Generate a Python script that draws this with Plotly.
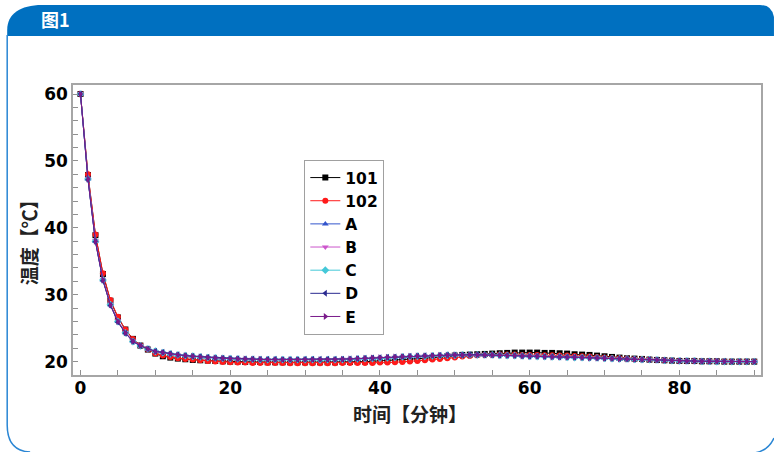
import plotly.graph_objects as go

# ---------------- data ----------------
minutes = list(range(0, 91))

s101 = [60, 47.9, 38.9, 33.1, 29.1, 26.6, 24.8, 23.4, 22.4, 21.8, 21.2, 20.8, 20.6,
        20.45, 20.35, 20.25, 20.2, 20.15, 20.1, 20.05,
        20.0, 20.0, 19.95, 19.95, 19.95, 19.9, 19.9, 19.9, 19.9, 19.9,
        19.9, 19.9, 19.9, 19.9, 19.9, 19.95, 19.95, 20.0, 20.0, 20.05,
        20.1, 20.15, 20.2, 20.25, 20.3, 20.4, 20.5, 20.6, 20.7, 20.8,
        20.9, 21.0, 21.05, 21.1, 21.15, 21.2, 21.25, 21.3, 21.35, 21.35,
        21.35, 21.35, 21.3, 21.3, 21.25, 21.2, 21.1, 21.05, 21.0, 20.9,
        20.8, 20.7, 20.6, 20.5, 20.45, 20.4, 20.3, 20.25, 20.2, 20.15,
        20.1, 20.1, 20.1, 20.05, 20.05, 20.05, 20.0, 20.0, 20.0, 20.0, 20.0]

s102 = [60, 48.0, 39.0, 33.2, 29.2, 26.7, 24.8, 23.4, 22.4, 21.8, 21.2, 20.9, 20.7,
        20.5, 20.4, 20.3, 20.2, 20.1, 20.0, 19.95,
        19.9, 19.85, 19.85, 19.8, 19.8, 19.8, 19.8, 19.8, 19.75, 19.75,
        19.75, 19.75, 19.75, 19.75, 19.75, 19.8, 19.8, 19.8, 19.8, 19.8,
        19.85, 19.85, 19.9, 19.95, 20.0, 20.1, 20.2, 20.3, 20.4, 20.5,
        20.6, 20.75, 20.85, 20.95, 21.0, 21.0, 21.05, 21.05, 21.05, 21.0,
        21.0, 21.0, 20.95, 20.95, 20.9, 20.9, 20.85, 20.8, 20.75, 20.7,
        20.6, 20.55, 20.5, 20.45, 20.4, 20.35, 20.3, 20.25, 20.2, 20.15,
        20.1, 20.1, 20.1, 20.05, 20.05, 20.05, 20.0, 20.0, 20.0, 20.0, 20.0]

sA = [60, 47.3, 38.0, 32.2, 28.5, 26.0, 24.3, 23.05, 22.4, 21.9, 21.55, 21.35, 21.15,
      21.0, 20.9, 20.8, 20.7, 20.6, 20.55, 20.5,
      20.45, 20.4, 20.4, 20.35, 20.35, 20.3, 20.3, 20.3, 20.3, 20.3,
      20.3, 20.3, 20.3, 20.3, 20.3, 20.3, 20.35, 20.4, 20.45, 20.5,
      20.55, 20.6, 20.65, 20.7, 20.75, 20.8, 20.85, 20.9, 20.9, 20.95,
      21.0, 21.0, 21.0, 21.0, 21.0, 21.0, 20.95, 20.9, 20.9, 20.85,
      20.8, 20.8, 20.75, 20.75, 20.7, 20.7, 20.65, 20.6, 20.6, 20.55,
      20.5, 20.45, 20.4, 20.4, 20.35, 20.3, 20.3, 20.25, 20.2, 20.15,
      20.1, 20.1, 20.1, 20.05, 20.05, 20.05, 20.0, 20.0, 20.0, 20.0, 20.0]

sB = [60, 47.4, 38.1, 32.3, 28.6, 26.1, 24.35, 23.1, 22.4, 21.9, 21.5, 21.3, 21.1,
      21.0, 20.85, 20.75, 20.7, 20.6, 20.5, 20.45,
      20.45, 20.4, 20.35, 20.35, 20.3, 20.3, 20.3, 20.3, 20.25, 20.25,
      20.3, 20.3, 20.3, 20.3, 20.3, 20.35, 20.35, 20.4, 20.45, 20.5,
      20.55, 20.6, 20.65, 20.7, 20.75, 20.8, 20.85, 20.85, 20.9, 20.95,
      21.0, 21.0, 21.0, 21.0, 21.0, 20.95, 20.95, 20.9, 20.85, 20.85,
      20.8, 20.8, 20.75, 20.7, 20.7, 20.65, 20.65, 20.6, 20.55, 20.55,
      20.5, 20.45, 20.4, 20.35, 20.35, 20.3, 20.25, 20.25, 20.2, 20.15,
      20.1, 20.1, 20.05, 20.05, 20.05, 20.05, 20.0, 20.0, 20.0, 20.0, 20.0]

sC = [60, 47.3, 38.0, 32.2, 28.5, 26.0, 24.3, 23.0, 22.35, 21.9, 21.55, 21.35, 21.15,
      21.0, 20.9, 20.8, 20.7, 20.6, 20.55, 20.5,
      20.45, 20.4, 20.35, 20.35, 20.3, 20.3, 20.3, 20.3, 20.3, 20.3,
      20.3, 20.3, 20.25, 20.3, 20.3, 20.3, 20.35, 20.4, 20.45, 20.45,
      20.5, 20.55, 20.6, 20.7, 20.75, 20.8, 20.8, 20.85, 20.9, 20.95,
      20.95, 21.0, 21.0, 21.0, 21.0, 21.0, 20.95, 20.9, 20.9, 20.85,
      20.8, 20.75, 20.75, 20.7, 20.7, 20.65, 20.6, 20.6, 20.55, 20.55,
      20.5, 20.45, 20.4, 20.4, 20.35, 20.3, 20.3, 20.25, 20.2, 20.15,
      20.1, 20.1, 20.1, 20.05, 20.05, 20.0, 20.0, 20.0, 20.0, 20.0, 20.0]

sD = [60, 47.2, 37.9, 32.1, 28.4, 25.9, 24.25, 23.0, 22.35, 21.9, 21.55, 21.4, 21.2,
      21.05, 20.9, 20.8, 20.75, 20.65, 20.55, 20.5,
      20.45, 20.45, 20.4, 20.4, 20.35, 20.35, 20.35, 20.3, 20.3, 20.3,
      20.35, 20.35, 20.35, 20.35, 20.35, 20.35, 20.4, 20.45, 20.5, 20.55,
      20.6, 20.65, 20.7, 20.75, 20.8, 20.85, 20.9, 20.9, 20.95, 21.0,
      21.0, 21.0, 21.05, 21.05, 21.0, 21.0, 20.95, 20.95, 20.9, 20.85,
      20.8, 20.8, 20.75, 20.75, 20.7, 20.7, 20.65, 20.6, 20.6, 20.55,
      20.5, 20.45, 20.45, 20.4, 20.35, 20.3, 20.3, 20.25, 20.2, 20.15,
      20.15, 20.1, 20.1, 20.05, 20.05, 20.05, 20.05, 20.0, 20.0, 20.0, 20.0]

sE = [60, 47.3, 38.0, 32.2, 28.5, 26.0, 24.3, 23.05, 22.4, 21.9, 21.5, 21.35, 21.15,
      21.0, 20.9, 20.8, 20.7, 20.6, 20.55, 20.5,
      20.45, 20.4, 20.4, 20.35, 20.35, 20.3, 20.3, 20.3, 20.3, 20.3,
      20.3, 20.3, 20.3, 20.3, 20.3, 20.35, 20.4, 20.45, 20.5, 20.55,
      20.6, 20.65, 20.7, 20.75, 20.8, 20.85, 20.85, 20.9, 20.95, 20.95,
      21.0, 21.0, 21.0, 21.0, 21.0, 21.0, 20.95, 20.9, 20.9, 20.85,
      20.8, 20.8, 20.75, 20.7, 20.7, 20.65, 20.65, 20.6, 20.55, 20.55,
      20.5, 20.45, 20.4, 20.4, 20.35, 20.3, 20.3, 20.25, 20.2, 20.15,
      20.1, 20.1, 20.1, 20.05, 20.05, 20.05, 20.0, 20.0, 20.0, 20.0, 20.0]

series_names = ["101", "102", "A", "B", "C", "D", "E"]
series_values = [s101, s102, sA, sB, sC, sD, sE]
series_colors = ["#000000", "#ff1a1a", "#3355cc", "#cc55cc", "#44c8d8", "#2a2a90", "#7a1a8a"]
series_symbols = ["square", "circle", "triangle-up", "triangle-down", "diamond", "triangle-left", "triangle-right"]

x_ticks = [0, 20, 40, 60, 80]
y_ticks = [20, 30, 40, 50, 60]
x_title = "时间【分钟】"
y_title = "温度【℃】"

# ---------------- layout geometry ----------------
W, H = 774, 452
ML, MR, MT, MB = 73, 11, 85, 77
PW, PH = W - ML - MR, H - MT - MB


def px(x, y):
    return (x - ML) / PW, (H - MB - y) / PH


def path(cmds):
    out = []
    for c in cmds:
        if isinstance(c, str):
            out.append(c)
        else:
            xp, yp = px(*c)
            out.append(f"{xp:.5f},{yp:.5f}")
    return " ".join(out)


fig = go.Figure()
for name, vals, col, sym in zip(series_names, series_values, series_colors, series_symbols):
    fig.add_trace(go.Scatter(
        x=minutes, y=vals, name=name, mode="lines+markers",
        line=dict(color=col, width=1),
        marker=dict(color=col, symbol=sym, size=6, line=dict(width=0)),
    ))

font_num = dict(family="DejaVu Sans", size=17, color="#000000", weight="bold")
font_cjk = dict(family="Noto Sans CJK SC", size=19, color="#222222", weight="bold")

axis_common = dict(
    showline=True, linecolor="#a6a6a6", linewidth=1.5, mirror=True,
    ticks="inside", ticklen=5, tickcolor="#909090", tickwidth=1,
    showgrid=False, zeroline=False, tickfont=font_num,
)

fig.update_layout(
    width=W, height=H,
    margin=dict(l=ML, r=MR, t=MT, b=MB),
    paper_bgcolor="white", plot_bgcolor="white",
    showlegend=True,
    legend=dict(
        x=(305 - ML) / PW, y=(H - MB - 160) / PH, xanchor="left", yanchor="top",
        bgcolor="white", bordercolor="#a0a0a0", borderwidth=1,
        font=dict(family="DejaVu Sans", size=15.5, color="#000000", weight="bold"),
        itemwidth=30, tracegroupgap=0,
    ),
    xaxis=dict(
        range=[-1.0, 90.9], tickvals=x_ticks, ticklabelstandoff=-3,
        minor=dict(dtick=5, tick0=0, ticks="inside", ticklen=5, tickcolor="#909090"),
        **axis_common,
    ),
    yaxis=dict(
        range=[18.0, 61.35], tickvals=y_ticks,
        minor=dict(dtick=2, tick0=0, ticks="inside", ticklen=5, tickcolor="#909090"),
        **axis_common,
    ),
)

# axis titles
tx, ty = px(411, 413)
fig.add_annotation(x=tx, y=ty, xref="paper", yref="paper", xanchor="center", yanchor="middle",
                   text=x_title, showarrow=False, font=font_cjk)
tx, ty = px(28, 238)
fig.add_annotation(x=tx, y=ty, xref="paper", yref="paper", xanchor="center", yanchor="middle",
                   text=y_title, showarrow=False, textangle=-90, font=font_cjk)

# header bar and frame
fig.add_shape(type="path", xref="paper", yref="paper", layer="below",
              path=path(["M", (7, 36), "L", (7, 30), "C", (7, 14), (20, 5), (42, 5),
                         "L", (762, 5), "Q", (774, 5), (776, 17), "L", (776, 36), "Z"]),
              fillcolor="#0070c0", line=dict(width=0))
fig.add_shape(type="path", xref="paper", yref="paper", layer="below",
              path=path(["M", (7, 35), "L", (7, 425), "Q", (7, 451), (30, 452)]),
              line=dict(color="#2a86d4", width=1.5))
fig.add_shape(type="path", xref="paper", yref="paper", layer="below",
              path=path(["M", (756, 453), "Q", (770, 451), (776, 438)]),
              line=dict(color="#2a86d4", width=1.5))

hx, hy = px(39, 19)
fig.add_annotation(x=hx, y=hy, xref="paper", yref="paper", xanchor="left", yanchor="middle",
                   text="图1", showarrow=False,
                   font=dict(family="Noto Sans CJK SC", size=18, color="white", weight="bold"))

fig.write_html("out.html")
